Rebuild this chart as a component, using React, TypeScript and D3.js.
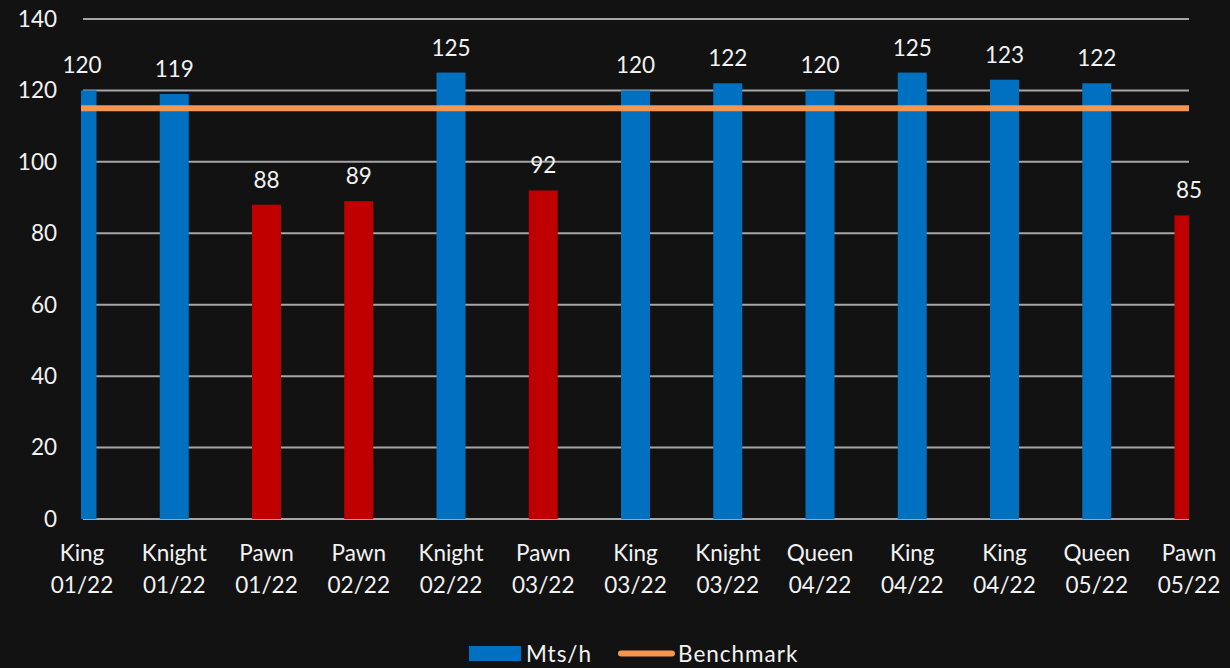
import React from 'react';
import * as d3 from 'd3';

const pieces = ['King', 'Knight', 'Pawn', 'Pawn', 'Knight', 'Pawn', 'King', 'Knight', 'Queen', 'King', 'King', 'Queen', 'Pawn'];
const months = ['01/22', '01/22', '01/22', '02/22', '02/22', '03/22', '03/22', '03/22', '04/22', '04/22', '04/22', '05/22', '05/22'];
const mtsPerHour = [120, 119, 88, 89, 125, 92, 120, 122, 120, 125, 123, 122, 85];
const benchmark = 115;
const yTicks = [0, 20, 40, 60, 80, 100, 120, 140];

const W = 1230;
const H = 668;
const left = 82;
const right = 1189;
const top = 19;
const bottom = 519;
const barW = 29;
const font = 'Lato, "Open Sans", sans-serif';
const fs = 22.5;
const textColor = '#f2f2f2';

export default function App() {
  const idx = mtsPerHour.map((_, i) => i);
  const x = d3.scalePoint<number>().domain(idx).range([left, right]);
  const y = d3.scaleLinear().domain([0, 140]).range([bottom, top]);

  return (
    <svg width={W} height={H} style={{ position: 'absolute', left: 0, top: 0, display: 'block' }}>
      <defs>
        <clipPath id="plot">
          <rect x={left - 1} y={0} width={right - left + 1} height={bottom} />
        </clipPath>
      </defs>
      <rect width={W} height={H} fill="#121212" />

      {/* grid */}
      {yTicks.map(t => (
        <g key={t}>
          <line x1={left + 1} x2={right} y1={y(t)} y2={y(t)} stroke="#a6a6a6" strokeWidth={2} />
          <text x={57} y={y(t)} dy="0.35em" textAnchor="end" fill={textColor} fontFamily={font} fontSize={fs}>{t}</text>
        </g>
      ))}

      {/* bars */}
      <g clipPath="url(#plot)">
        {mtsPerHour.map((v, i) => (
          <rect key={i} x={x(i)! - barW / 2} y={y(v)} width={barW} height={y(0) - y(v)}
            fill={v < benchmark ? '#c00000' : '#0070c0'} />
        ))}
      </g>

      {/* benchmark line */}
      <line x1={left - 1} x2={right} y1={y(benchmark)} y2={y(benchmark)} stroke="#f4964f" strokeWidth={6} />

      {/* value labels */}
      {mtsPerHour.map((v, i) => (
        <text key={i} x={x(i)} y={y(v) - 17} textAnchor="middle" fill={textColor} fontFamily={font} fontSize={fs}>{v}</text>
      ))}

      {/* category labels */}
      {pieces.map((p, i) => (
        <text key={i} x={x(i)} textAnchor="middle" fill={textColor} fontFamily={font} fontSize={fs}>
          <tspan x={x(i)} y={561}>{p}</tspan>
          <tspan x={x(i)} y={593}>{months[i]}</tspan>
        </text>
      ))}

      {/* legend */}
      <rect x={469} y={646} width={52} height={15} fill="#0070c0" />
      <text x={526} y={662} fill={textColor} fontFamily={font} fontSize={fs} letterSpacing={1}>Mts/h</text>
      <line x1={621} x2={672} y1={653.5} y2={653.5} stroke="#f4964f" strokeWidth={6} strokeLinecap="round" />
      <text x={678} y={662} fill={textColor} fontFamily={font} fontSize={fs} letterSpacing={1}>Benchmark</text>
    </svg>
  );
}
